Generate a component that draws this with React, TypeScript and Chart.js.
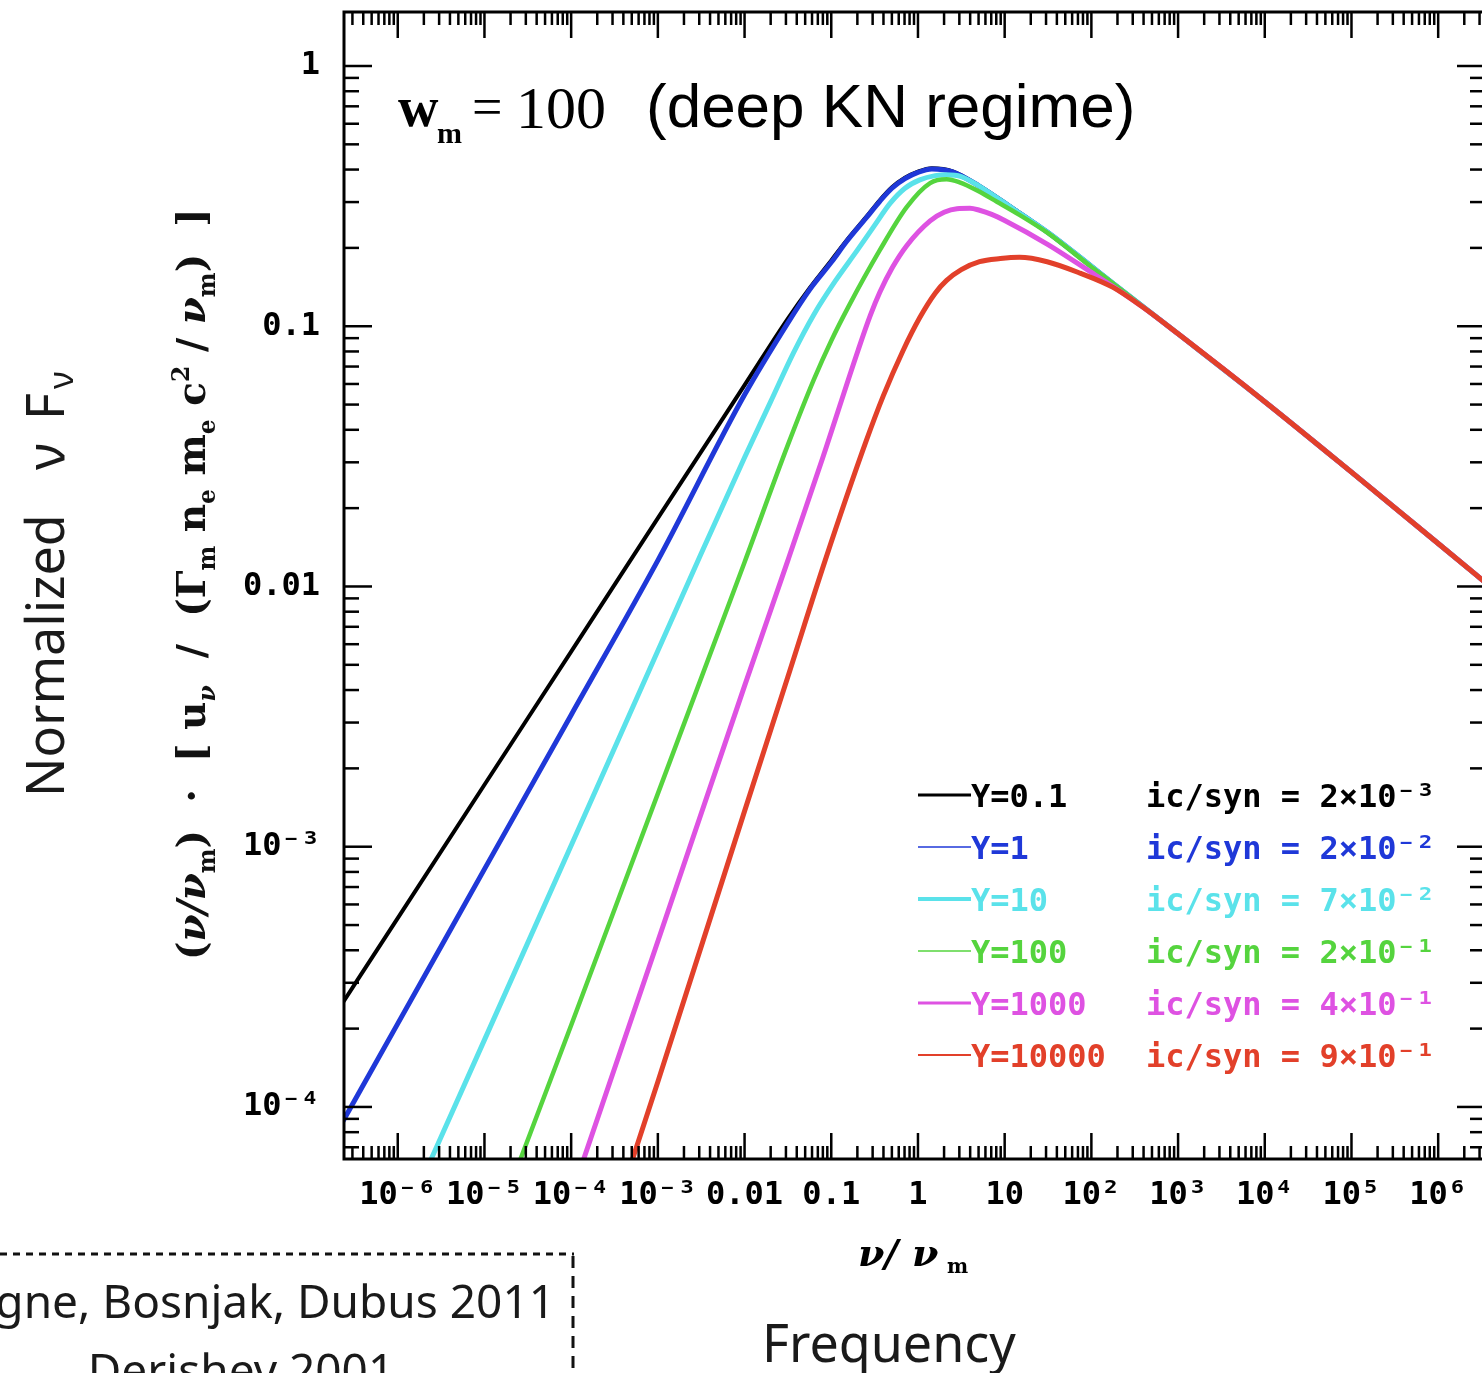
import React, { useEffect, useRef } from "react";
import { Chart, registerables } from "chart.js";

Chart.register(...registerables);

// ---------- axis ranges & tick labels ----------
const X_MIN = Math.pow(10, -6.62);
const X_MAX = Math.pow(10, 6.54);
const Y_MIN = Math.pow(10, -4.2);
const Y_MAX = Math.pow(10, 0.2075);

const xTickValues = [1e-6, 1e-5, 1e-4, 1e-3, 1e-2, 1e-1, 1, 10, 1e2, 1e3, 1e4, 1e5, 1e6];
const xTickLabels = ["10⁻⁶", "10⁻⁵", "10⁻⁴", "10⁻³", "0.01", "0.1", "1", "10", "10²", "10³", "10⁴", "10⁵", "10⁶"];
const yTickValues = [1e-4, 1e-3, 1e-2, 1e-1, 1];
const yTickLabels = ["10⁻⁴", "10⁻³", "0.01", "0.1", "1"];

// ---------- legend text ----------
const seriesLabels = ["Y=0.1", "Y=1", "Y=10", "Y=100", "Y=1000", "Y=10000"];
const ratioLabels = [
  "ic/syn = 2×10⁻³",
  "ic/syn = 2×10⁻²",
  "ic/syn = 7×10⁻²",
  "ic/syn = 2×10⁻¹",
  "ic/syn = 4×10⁻¹",
  "ic/syn = 9×10⁻¹",
];
const seriesColors = ["#000000", "#1f38d8", "#5ae2ea", "#55d43e", "#de52e2", "#e2402a"];

// ---------- series data (x = nu/nu_m, y = normalized nuF_nu) ----------
const blackX = [2e-7, 1e-6, 1e-5, 1e-4, 1e-3, 1e-2, 0.0316, 0.0562, 0.1, 0.151, 0.251, 0.363, 0.501, 0.708, 1, 1.445, 2.51, 5.13, 12.3, 31.6, 74.1, 178, 1e3, 1e4, 1e5, 1e6, 3.98e6];
const blackY = [2.33e-4, 5.32e-4, 1.73e-3, 5.62e-3, 0.0183, 0.0594, 0.107, 0.14, 0.179, 0.214, 0.262, 0.305, 0.342, 0.372, 0.393, 0.405, 0.394, 0.346, 0.285, 0.229, 0.184, 0.146, 0.0935, 0.0513, 0.0275, 0.01462, 0.01];

const blueX = [2e-7, 1e-6, 1e-5, 1e-4, 1e-3, 1e-2, 0.0316, 0.0562, 0.1, 0.151, 0.251, 0.363, 0.501, 0.708, 1, 1.445, 2.51, 5.13, 12.3, 31.6, 74.1, 178, 1e3, 1e4, 1e5, 1e6, 3.98e6];
const blueY = [8.05e-5, 2.09e-4, 8.2e-4, 3.21e-3, 0.0126, 0.0545, 0.103, 0.138, 0.176, 0.212, 0.26, 0.302, 0.339, 0.369, 0.39, 0.402, 0.392, 0.345, 0.284, 0.229, 0.184, 0.146, 0.0935, 0.0513, 0.0275, 0.01462, 0.01];

const cyanX = [1.78e-6, 1e-5, 1e-4, 1e-3, 3.16e-3, 0.01, 0.02, 0.0363, 0.0631, 0.112, 0.2, 0.316, 0.479, 0.708, 1.05, 1.58, 2.14, 3.16, 5.13, 12.3, 31.6, 74.1, 178, 1e3, 1e4, 1e5, 1e6, 3.98e6];
const cyanY = [5e-5, 1.81e-4, 1.01e-3, 5.66e-3, 0.0134, 0.0313, 0.0513, 0.0785, 0.111, 0.1496, 0.196, 0.244, 0.297, 0.339, 0.365, 0.379, 0.382, 0.376, 0.345, 0.284, 0.229, 0.184, 0.146, 0.0935, 0.0513, 0.0275, 0.01462, 0.01];

const greenX = [2e-5, 1e-4, 1e-3, 0.01, 0.0316, 0.0631, 0.1, 0.158, 0.363, 0.741, 1.38, 2.14, 3.02, 5.01, 8.13, 14.8, 31.6, 100, 178, 1e3, 1e4, 1e5, 1e6, 3.98e6];
const greenY = [5e-5, 2.06e-4, 1.6e-3, 0.0124, 0.035, 0.0625, 0.088, 0.119, 0.196, 0.287, 0.355, 0.367, 0.357, 0.33, 0.301, 0.268, 0.228, 0.169, 0.146, 0.0935, 0.0513, 0.0275, 0.01462, 0.01];

const magentaX = [1.1e-4, 1e-3, 0.01, 0.0316, 0.0794, 0.204, 0.282, 0.363, 0.501, 0.741, 1.38, 2.0, 2.82, 3.98, 5.13, 7.08, 10, 31.6, 100, 178, 398, 1e3, 1e4, 1e5, 1e6, 3.98e6];
const magentaY = [5e-5, 4.33e-4, 4.15e-3, 0.0126, 0.0311, 0.0809, 0.11, 0.135, 0.167, 0.204, 0.254, 0.274, 0.283, 0.284, 0.279, 0.269, 0.255, 0.206, 0.161, 0.142, 0.118, 0.0935, 0.0513, 0.0275, 0.01462, 0.01];

const redX = [4.07e-4, 1e-3, 0.01, 0.0316, 0.0851, 0.251, 0.398, 0.676, 1.05, 1.58, 2.14, 3.16, 5.13, 8.91, 14.8, 30.9, 74.1, 178, 398, 1e3, 1e4, 1e5, 1e6, 3.98e6];
const redY = [5e-5, 1.25e-4, 1.37e-3, 4.5e-3, 0.0126, 0.036, 0.054, 0.0809, 0.108, 0.134, 0.15, 0.165, 0.177, 0.182, 0.184, 0.177, 0.16, 0.141, 0.118, 0.0935, 0.0513, 0.0275, 0.01462, 0.01];

const seriesX = [blackX, blueX, cyanX, greenX, magentaX, redX];
const seriesY = [blackY, blueY, cyanY, greenY, magentaY, redY];
const seriesWidths = [4, 5, 5, 4.5, 5, 5];
const seriesOrder = [5, 4, 3, 2, 1, 0];
const legendLineWidths = [3, 1.5, 4, 1.5, 3, 2];

// ---------- helpers ----------
type Seg = { t: string; scale?: number; dy?: number; font: string };

function richWidth(ctx: CanvasRenderingContext2D, segs: Seg[], base: number) {
  let w = 0;
  for (const s of segs) {
    ctx.font = s.font.replace("SIZE", String(base * (s.scale ?? 1)));
    w += ctx.measureText(s.t).width;
  }
  return w;
}

function drawRich(ctx: CanvasRenderingContext2D, segs: Seg[], x: number, y: number, base: number) {
  let cx = x;
  for (const s of segs) {
    ctx.font = s.font.replace("SIZE", String(base * (s.scale ?? 1)));
    ctx.fillText(s.t, cx, y + (s.dy ?? 0) * base);
    cx += ctx.measureText(s.t).width;
  }
}

function labelFor(v: number, values: number[], labels: string[]) {
  const i = values.findIndex((t) => Math.abs(Math.log10(t) - Math.log10(v)) < 1e-6);
  return i >= 0 ? labels[i] : "";
}

const TICK_FONT = "'DejaVu Sans Mono', 'Liberation Mono', monospace";
const SANS = "'Noto Sans', 'Open Sans', sans-serif";
const SERIF = "'DejaVu Serif', 'Liberation Serif', serif";

const decorPlugin = {
  id: "decor",
  afterDraw(chart: any) {
    const { ctx, chartArea: a, scales } = chart;
    const xs = scales.x;
    const ys = scales.y;
    ctx.save();
    ctx.strokeStyle = "#000";
    ctx.lineCap = "butt";

    const seg = (x1: number, y1: number, x2: number, y2: number) => {
      ctx.beginPath();
      ctx.moveTo(x1, y1);
      ctx.lineTo(x2, y2);
      ctx.stroke();
    };

    // x ticks (top & bottom, pointing inward)
    ctx.lineWidth = 2.5;
    for (let d = -7; d <= 6; d++) {
      for (let k = 1; k <= 9; k++) {
        const v = k * Math.pow(10, d);
        if (v < xs.min || v > xs.max) continue;
        const px = xs.getPixelForValue(v);
        const L = k === 1 ? 26 : 13;
        seg(px, a.bottom, px, a.bottom - L);
        seg(px, a.top, px, a.top + L);
      }
    }
    // y ticks (left & right)
    for (let d = -5; d <= 0; d++) {
      for (let k = 1; k <= 9; k++) {
        const v = k * Math.pow(10, d);
        if (v < ys.min || v > ys.max) continue;
        const py = ys.getPixelForValue(v);
        const L = k === 1 ? 28 : 15;
        seg(a.left, py, a.left + L, py);
        seg(a.right, py, a.right - L, py);
      }
    }
    // frame
    ctx.lineWidth = 3;
    ctx.strokeRect(a.left, a.top, a.right - a.left, a.bottom - a.top);

    // ---- legend inside plot ----
    const rowY = [795, 847, 899, 951, 1003, 1055];
    ctx.textBaseline = "alphabetic";
    ctx.textAlign = "left";
    for (let i = 0; i < seriesLabels.length; i++) {
      const y = rowY[i];
      ctx.strokeStyle = seriesColors[i];
      ctx.lineWidth = legendLineWidths[i];
      seg(918, y, 971, y);
      ctx.fillStyle = seriesColors[i];
      ctx.font = `bold 32px ${TICK_FONT}`;
      ctx.fillText(seriesLabels[i], 971, y + 12);
      ctx.fillText(ratioLabels[i], 1146, y + 12);
    }

    // ---- panel title: w_m = 100 (deep KN regime) ----
    ctx.fillStyle = "#000";
    ctx.font = `bold 56px 'Liberation Serif', serif`;
    ctx.fillText("w", 398, 126);
    ctx.font = `bold 30px 'Liberation Serif', serif`;
    ctx.fillText("m", 437, 143);
    ctx.font = `54px 'Liberation Serif', serif`;
    ctx.fillText("=", 472, 125);
    ctx.font = `60px 'Liberation Serif', serif`;
    ctx.fillText("100", 516, 128);
    ctx.font = `62px 'Liberation Sans', Arial, sans-serif`;
    ctx.fillText("(deep KN regime)", 646, 127);

    // ---- x-axis title nu / nu_m ----
    ctx.fillStyle = "#000";
    ctx.font = `bold italic 38px ${SERIF}`;
    ctx.fillText("ν/", 858, 1266);
    ctx.fillText("ν", 912, 1266);
    ctx.font = `bold 20px ${SERIF}`;
    ctx.fillText("m", 947, 1273);

    // ---- inner y-axis title (rotated) ----
    const lf = `bold SIZEpx ${SERIF}`;
    const lfi = `bold italic SIZEpx ${SERIF}`;
    const ySegs: Seg[] = [
      { t: "(", font: lf },
      { t: "ν/ν", font: lfi },
      { t: "m", font: lf, scale: 0.6, dy: 0.25 },
      { t: ")  ·  [ u", font: lf },
      { t: "ν", font: lfi, scale: 0.6, dy: 0.25 },
      { t: "  /  (Γ", font: lf },
      { t: "m", font: lf, scale: 0.6, dy: 0.25 },
      { t: " n", font: lf },
      { t: "e", font: lf, scale: 0.6, dy: 0.25 },
      { t: " m", font: lf },
      { t: "e", font: lf, scale: 0.6, dy: 0.25 },
      { t: " c", font: lf },
      { t: "2", font: lf, scale: 0.6, dy: -0.4 },
      { t: " / ", font: lf },
      { t: "ν", font: lfi },
      { t: "m", font: lf, scale: 0.6, dy: 0.25 },
      { t: ")  ]", font: lf },
    ];
    const target = 752;
    const w32 = richWidth(ctx, ySegs, 32);
    const base = (32 * target) / w32;
    ctx.save();
    ctx.translate(205, 584);
    ctx.rotate(-Math.PI / 2);
    ctx.fillStyle = "#111";
    drawRich(ctx, ySegs, -target / 2, 0, base);
    ctx.restore();

    // ---- outer y-axis title "Normalized nu F_nu" ----
    ctx.save();
    ctx.translate(64, 797);
    ctx.rotate(-Math.PI / 2);
    ctx.fillStyle = "#1a1a1a";
    ctx.font = `52px ${SANS}`;
    ctx.fillText("Normalized", 0, 0);
    ctx.fillText("ν", 327, 0);
    ctx.fillText("F", 377, 0);
    ctx.font = `34px ${SANS}`;
    ctx.fillText("ν", 408, 9);
    ctx.restore();

    // ---- "Frequency" ----
    ctx.fillStyle = "#1a1a1a";
    ctx.font = `52px ${SANS}`;
    ctx.textAlign = "left";
    ctx.fillText("Frequency", 762, 1362);

    // ---- reference box ----
    ctx.strokeStyle = "#111";
    ctx.lineWidth = 3;
    ctx.setLineDash([7, 6]);
    seg(0, 1254, 574, 1254);
    ctx.setLineDash([12, 8]);
    seg(573, 1256, 573, 1373);
    ctx.setLineDash([]);
    ctx.font = `46px ${SANS}`;
    ctx.textAlign = "right";
    ctx.fillText("Daigne, Bosnjak, Dubus 2011", 555, 1318);
    ctx.textAlign = "center";
    ctx.fillText("Derishev 2001", 241, 1387);

    ctx.restore();
  },
};

export default function App() {
  const ref = useRef<HTMLCanvasElement>(null);

  useEffect(() => {
    if (!ref.current) return;
    const datasets = seriesLabels.map((label, i) => ({
      label,
      data: seriesX[i].map((x, j) => ({ x, y: seriesY[i][j] })),
      borderColor: seriesColors[i],
      backgroundColor: seriesColors[i],
      borderWidth: seriesWidths[i],
      pointRadius: 0,
      fill: false,
      cubicInterpolationMode: "monotone" as const,
      clip: 0,
      order: seriesOrder[i],
    }));

    const chart = new Chart(ref.current, {
      type: "line",
      data: { datasets },
      options: {
        responsive: false,
        animation: false,
        events: [],
        layout: { padding: { left: 0, top: 12, right: 15, bottom: 0 } },
        plugins: {
          legend: { display: false },
          tooltip: { enabled: false },
          title: { display: false },
        },
        scales: {
          x: {
            type: "logarithmic",
            position: "bottom",
            min: X_MIN,
            max: X_MAX,
            grid: { display: false, drawTicks: false },
            border: { display: false },
            afterBuildTicks: (s: any) => {
              s.ticks = xTickValues.map((v) => ({ value: v }));
            },
            afterFit: (s: any) => {
              s.height = 214;
              s.paddingLeft = 0;
              s.paddingRight = 0;
            },
            ticks: {
              autoSkip: false,
              maxRotation: 0,
              minRotation: 0,
              padding: 17,
              color: "#000",
              font: { family: TICK_FONT, size: 32, weight: "bold" },
              callback: (v: any) => labelFor(Number(v), xTickValues, xTickLabels),
            },
          },
          y: {
            type: "logarithmic",
            position: "left",
            min: Y_MIN,
            max: Y_MAX,
            grid: { display: false, drawTicks: false },
            border: { display: false },
            afterBuildTicks: (s: any) => {
              s.ticks = yTickValues.map((v) => ({ value: v }));
            },
            afterFit: (s: any) => {
              s.width = 344;
              s.paddingTop = 0;
              s.paddingBottom = 0;
            },
            ticks: {
              autoSkip: false,
              padding: 24,
              color: "#000",
              font: { family: TICK_FONT, size: 32, weight: "bold" },
              callback: (v: any) => labelFor(Number(v), yTickValues, yTickLabels),
            },
          },
        },
      } as any,
      plugins: [decorPlugin],
    });
    return () => chart.destroy();
  }, []);

  return (
    <div
      style={{
        position: "fixed",
        left: 0,
        top: 0,
        width: 1482,
        height: 1373,
        overflow: "hidden",
        background: "#fff",
      }}
    >
      <canvas ref={ref} width={1500} height={1373} style={{ display: "block", width: 1500, height: 1373 }} />
    </div>
  );
}
